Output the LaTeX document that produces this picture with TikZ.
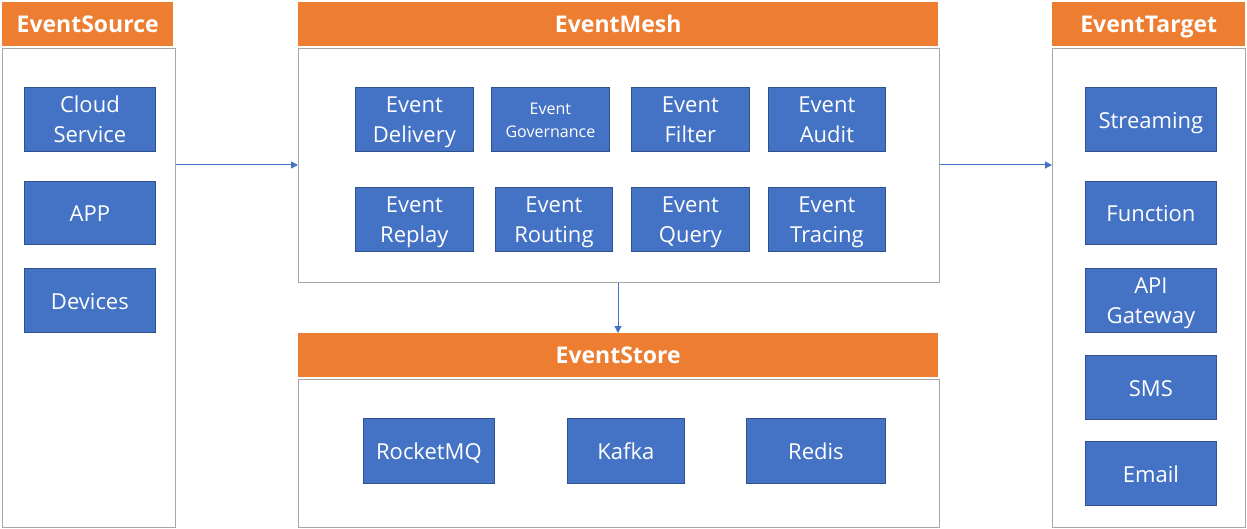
\documentclass[tikz,border=0pt]{standalone}
\usepackage{fontspec}
\setmainfont{Open Sans}
\setsansfont{Open Sans}
\usetikzlibrary{arrows.meta}
\definecolor{orangeH}{HTML}{ED7D31}
\definecolor{blueF}{HTML}{4472C4}
\definecolor{blueD}{HTML}{2F528F}
\definecolor{grayB}{HTML}{A6A6A6}
\tikzset{
  hdr/.style={fill=orangeH, draw=none, anchor=north west, inner sep=0pt, text=white,
    font=\fontsize{23}{27}\selectfont\bfseries, text height=20pt, text depth=4pt},
  panel/.style={draw=grayB, line width=1pt, fill=white, anchor=north west, inner sep=0pt},
  bbox/.style={fill=blueF, draw=blueD, line width=0.8pt, anchor=north west, inner sep=0pt,
    text=white, align=center, font=\fontsize{22}{30}\selectfont\sffamily},
  one/.style={text height=21pt, text depth=3pt},
  two/.style={text height=50pt, text depth=4pt},
  conn/.style={draw=blueF, line width=1pt, -{Triangle[length=7pt,width=7pt]}}
}
\begin{document}
\begin{tikzpicture}[x=1pt,y=-1pt]
\useasboundingbox (0,0) rectangle (1247,529);
% Source
\node[hdr, minimum width=171pt, minimum height=44pt] (srcH) at (2,2) {EventSource};
\node[panel, minimum width=173pt, minimum height=479pt] (srcP) at (2,48) {};
\node[bbox, two, minimum width=131pt, minimum height=64pt] (cloud) at (24,87) {Cloud\\Service};
\node[bbox, one, minimum width=131pt, minimum height=63pt] (app) at (24,181) {APP};
\node[bbox, one, minimum width=131pt, minimum height=64pt] (dev) at (24,268) {Devices};
% Mesh
\node[hdr, minimum width=640pt, minimum height=44pt] (meshH) at (298,2) {EventMesh};
\node[panel, minimum width=641pt, minimum height=234pt] (meshP) at (298,48) {};
\node[bbox, two, minimum width=118pt, minimum height=64pt] (deliv) at (355,87) {Event\\Delivery};
\node[bbox, minimum width=118pt, minimum height=64pt, font=\fontsize{16}{23}\selectfont\sffamily,
  text height=40pt, text depth=4pt] (gov) at (491,87) {Event\\Governance};
\node[bbox, two, minimum width=118pt, minimum height=64pt] (filt) at (631,87) {Event\\Filter};
\node[bbox, two, minimum width=117pt, minimum height=64pt] (audit) at (768,87) {Event\\Audit};
\node[bbox, two, minimum width=118pt, minimum height=64pt] (replay) at (355,187) {Event\\Replay};
\node[bbox, two, minimum width=117pt, minimum height=64pt] (rout) at (495,187) {Event\\Routing};
\node[bbox, two, minimum width=118pt, minimum height=64pt] (query) at (631,187) {Event\\Query};
\node[bbox, two, minimum width=117pt, minimum height=64pt] (trac) at (768,187) {Event\\Tracing};
% Store
\node[hdr, minimum width=640pt, minimum height=44pt] (storeH) at (298,333) {EventStore};
\node[panel, minimum width=641pt, minimum height=148pt] (storeP) at (298,379) {};
\node[bbox, one, minimum width=131pt, minimum height=65pt] (rmq) at (363,418) {RocketMQ};
\node[bbox, one, minimum width=117pt, minimum height=65pt] (kafka) at (567,418) {Kafka};
\node[bbox, one, minimum width=139pt, minimum height=65pt] (redis) at (746,418) {Redis};
% Target
\node[hdr, minimum width=193pt, minimum height=44pt] (tgtH) at (1052,2) {EventTarget};
\node[panel, minimum width=193pt, minimum height=479pt] (tgtP) at (1052,48) {};
\node[bbox, one, minimum width=131pt, minimum height=64pt] (stream) at (1085,87) {Streaming};
\node[bbox, one, minimum width=131pt, minimum height=63pt] (func) at (1085,181) {Function};
\node[bbox, two, minimum width=131pt, minimum height=64pt] (api) at (1085,268) {API\\Gateway};
\node[bbox, one, minimum width=131pt, minimum height=64pt] (sms) at (1085,355) {SMS};
\node[bbox, one, minimum width=131pt, minimum height=64pt] (email) at (1085,441) {Email};
% Connectors
\draw[conn] (srcP.east |- 0,165) -- (meshP.west |- 0,165);
\draw[conn] (meshP.east |- 0,165) -- (tgtP.west |- 0,165);
\draw[conn] (meshP.south -| 618,0) -- (storeH.north -| 618,0);
\end{tikzpicture}
\end{document}
